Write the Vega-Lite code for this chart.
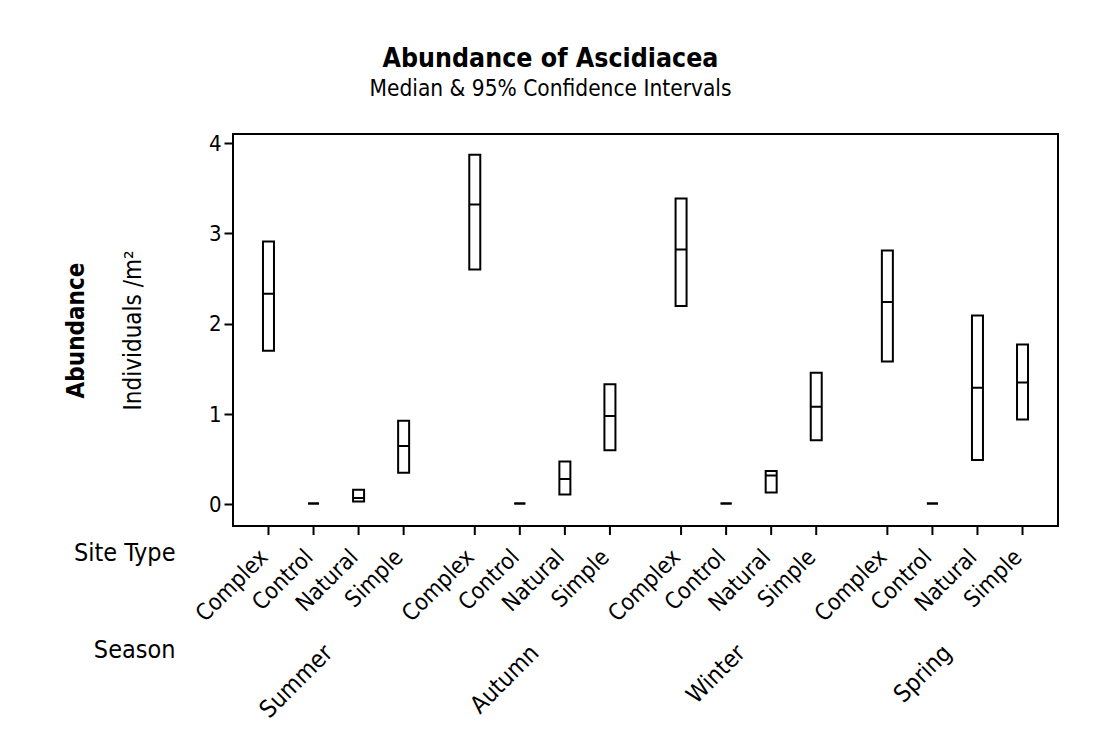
{
  "$schema": "https://vega.github.io/schema/vega-lite/v6.json",
  "autosize": {"type": "none"},
  "padding": {"left": 233, "top": 134, "right": 40, "bottom": 216},
  "width": 825,
  "height": 392,
  "background": "white",
  "title": {
    "text": "Abundance of Ascidiacea",
    "subtitle": "Median & 95% Confidence Intervals",
    "anchor": "middle",
    "dx": -95,
    "offset": 32,
    "font": "DejaVu Sans Condensed, DejaVu Sans",
    "subtitleFont": "DejaVu Sans Condensed, DejaVu Sans",
    "fontSize": 26.5,
    "fontWeight": "bold",
    "subtitleFontSize": 22.5,
    "subtitlePadding": 5,
    "color": "black",
    "subtitleColor": "black"
  },
  "config": {
    "font": "DejaVu Sans Condensed, DejaVu Sans",
    "view": {"stroke": "black", "strokeWidth": 2}
  },
  "data": {
    "values": [
      {"season": "Summer", "site": "Complex", "lo": 1.70, "median": 2.33, "hi": 2.91},
      {"season": "Summer", "site": "Control", "lo": 0.01, "median": 0.01, "hi": 0.01},
      {"season": "Summer", "site": "Natural", "lo": 0.03, "median": 0.07, "hi": 0.16},
      {"season": "Summer", "site": "Simple", "lo": 0.35, "median": 0.645, "hi": 0.925},
      {"season": "Autumn", "site": "Complex", "lo": 2.60, "median": 3.32, "hi": 3.87},
      {"season": "Autumn", "site": "Control", "lo": 0.01, "median": 0.01, "hi": 0.01},
      {"season": "Autumn", "site": "Natural", "lo": 0.11, "median": 0.28, "hi": 0.475},
      {"season": "Autumn", "site": "Simple", "lo": 0.60, "median": 0.977, "hi": 1.33},
      {"season": "Winter", "site": "Complex", "lo": 2.197, "median": 2.82, "hi": 3.385},
      {"season": "Winter", "site": "Control", "lo": 0.01, "median": 0.01, "hi": 0.01},
      {"season": "Winter", "site": "Natural", "lo": 0.13, "median": 0.32, "hi": 0.368},
      {"season": "Winter", "site": "Simple", "lo": 0.708, "median": 1.08, "hi": 1.456},
      {"season": "Spring", "site": "Complex", "lo": 1.58, "median": 2.24, "hi": 2.81},
      {"season": "Spring", "site": "Control", "lo": 0.01, "median": 0.01, "hi": 0.01},
      {"season": "Spring", "site": "Natural", "lo": 0.49, "median": 1.29, "hi": 2.09},
      {"season": "Spring", "site": "Simple", "lo": 0.94, "median": 1.35, "hi": 1.77}
    ]
  },
  "encoding": {
    "x": {
      "field": "season", "type": "nominal",
      "sort": ["Summer", "Autumn", "Winter", "Spring"],
      "scale": {"paddingInner": 0.1265, "paddingOuter": 0.0628},
      "axis": {
        "orient": "bottom",
        "ticks": false, "domain": false, "grid": false,
        "labelAngle": -45, "labelAlign": "right", "labelBaseline": "middle",
        "labelFontSize": 24, "labelColor": "black", "labelPadding": 123, "labelOffset": -7,
        "title": ["Site Type", "Season"],
        "titleAngle": 0, "titleAlign": "right", "titleBaseline": "alphabetic",
        "titleX": -58, "titleY": 34, "titleLineHeight": 97,
        "titleFontSize": 25, "titleFontWeight": "normal", "titleColor": "black"
      }
    },
    "xOffset": {
      "field": "site", "type": "nominal",
      "sort": ["Complex", "Control", "Natural", "Simple"],
      "scale": {"paddingInner": 0, "paddingOuter": 0}
    }
  },
  "resolve": {"axis": {"y": "independent"}},
  "layer": [
    {
      "mark": {"type": "bar", "width": 11, "fill": "white", "stroke": "black", "strokeWidth": 2},
      "encoding": {
        "y": {
          "field": "lo", "type": "quantitative",
          "scale": {"domain": [-0.24, 4.1], "nice": false, "zero": false},
          "axis": {
            "orient": "left",
            "values": [0, 1, 2, 3, 4],
            "domain": false, "grid": false,
            "tickSize": 9, "tickWidth": 2, "tickColor": "black",
            "labelFontSize": 22, "labelColor": "black", "labelPadding": 3,
            "title": "Individuals /m²",
            "titleFontSize": 24, "titleFontWeight": "normal", "titleColor": "black",
            "titleAngle": -90, "titleBaseline": "alphabetic", "titleX": -93, "titleY": 196
          }
        },
        "y2": {"field": "hi"}
      }
    },
    {
      "mark": {"type": "bar", "width": 11, "fill": "white", "stroke": "black", "strokeWidth": 2},
      "encoding": {
        "y": {
          "field": "median", "type": "quantitative",
          "scale": {"domain": [-0.24, 4.1], "nice": false, "zero": false},
          "axis": {
            "orient": "left",
            "labels": false, "ticks": false, "domain": false, "grid": false,
            "title": "Abundance",
            "titleFontSize": 24, "titleFontWeight": "bold", "titleColor": "black",
            "titleAngle": -90, "titleBaseline": "alphabetic", "titleX": -150, "titleY": 196
          }
        },
        "y2": {"field": "median"}
      }
    },
    {
      "mark": {"type": "rule", "stroke": "black", "strokeWidth": 2},
      "encoding": {
        "y": {"datum": -0.24, "type": "quantitative", "scale": {"domain": [-0.24, 4.1], "nice": false, "zero": false}, "axis": null},
        "y2": {"datum": -0.34}
      }
    },
    {
      "mark": {"type": "text", "angle": 315, "align": "right", "baseline": "middle", "dx": -6, "fontSize": 23, "color": "black"},
      "encoding": {
        "y": {"datum": -0.5, "type": "quantitative", "scale": {"domain": [-0.24, 4.1], "nice": false, "zero": false}, "axis": null},
        "text": {"field": "site"}
      }
    }
  ]
}
